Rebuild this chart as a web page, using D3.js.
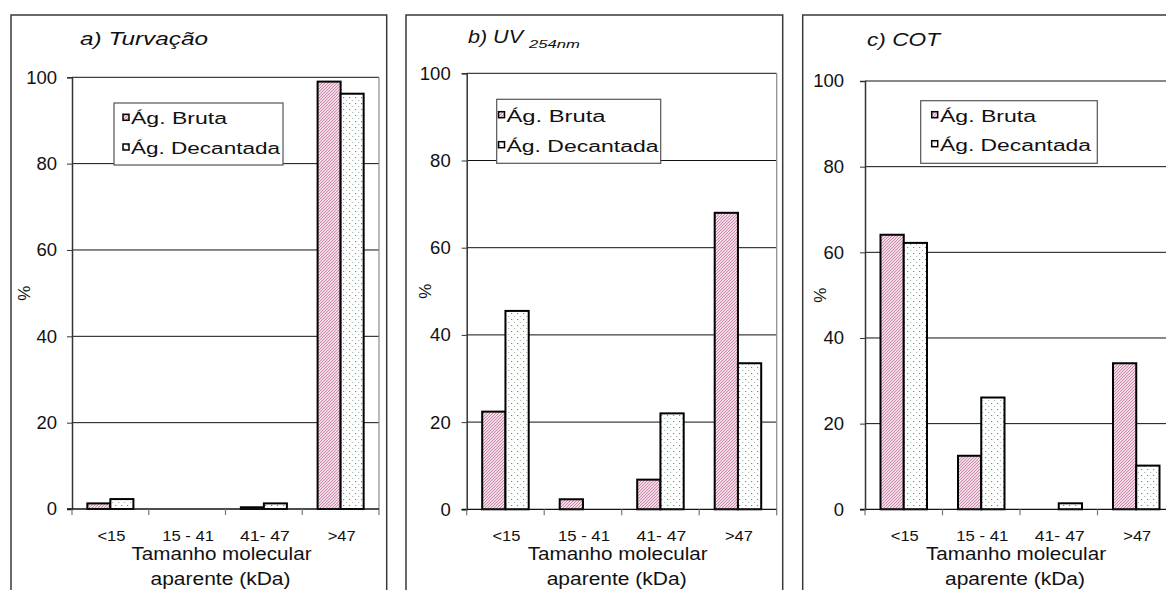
<!DOCTYPE html>
<html>
<head>
<meta charset="utf-8">
<script src="https://cdn.jsdelivr.net/npm/d3@7"></script>
<style>
  html, body { margin: 0; padding: 0; background: #fff; }
  svg { display: block; font-family: "Liberation Sans", Arial, sans-serif; }
</style>
</head>
<body>
<svg id="chart" width="1166" height="590"></svg>
<script>
// Size classes of the apparent molecular weight (kDa)
const categories = ["<15", "15 - 41", "41- 47", ">47"];
const categoryLabelWidths = [28, 52, 50, 28];
const seriesNames = ["Ág. Bruta", "Ág. Decantada"];

// Percentage distribution per parameter
const turvacaoBruta     = [1.3, 0, 0.4, 99];
const turvacaoDecantada = [2.3, 0, 1.3, 96.2];
const uvBruta           = [22.4, 2.3, 6.8, 68];
const uvDecantada       = [45.5, 0, 22, 33.5];
const cotBruta          = [64.1, 12.5, 0, 34.1];
const cotDecantada      = [62.2, 26.1, 1.4, 10.2];

const yTickValues = [0, 20, 40, 60, 80, 100];

const svg = d3.select("#chart");
const defs = svg.append("defs");

// Fill patterns: fine pink diagonal hatch and sparse dots
const hatch = defs.append("pattern")
  .attr("id", "hatch").attr("patternUnits", "userSpaceOnUse")
  .attr("width", 3).attr("height", 3);
hatch.append("rect").attr("width", 3).attr("height", 3).attr("fill", "#f1d9e5");
hatch.append("path").attr("d", "M-1,1 L1,-1 M0,3 L3,0 M2,4 L4,2")
  .attr("stroke", "#c2769c").attr("stroke-width", 0.8);

const dots = defs.append("pattern")
  .attr("id", "dots").attr("patternUnits", "userSpaceOnUse")
  .attr("width", 6).attr("height", 6);
dots.append("rect").attr("width", 6).attr("height", 6).attr("fill", "#ffffff");
dots.append("rect").attr("x", 1).attr("y", 1).attr("width", 1.2).attr("height", 1)
  .attr("fill", "#6f8c73");
dots.append("rect").attr("x", 4).attr("y", 4).attr("width", 1.2).attr("height", 1)
  .attr("fill", "#a9bdac");

const fills = ["url(#hatch)", "url(#dots)"];

const panels = [
  {
    title: "a) Turvação", titleX: 80, titleY: 45, titleW: 128, sub: null,
    frame: { x0: 11, x1: 386.7 },
    plot: { l: 72, r: 379, t: 77.3, b: 509 },
    labelGap: 15, pctX: 25,
    legend: { x: 114, y: 103, w: 169, h: 62, sx: 123, tx: 131, b1: 124.3, b2: 154, wB: 96, wD: 149 },
    data: [turvacaoBruta, turvacaoDecantada]
  },
  {
    title: "b) UV", titleX: 468, titleY: 43, titleW: 55,
    sub: { text: "254nm", x: 529, y: 48, w: 51 },
    frame: { x0: 406, x1: 782.7 },
    plot: { l: 466.7, r: 776.7, t: 73.3, b: 509.3 },
    labelGap: 16, pctX: 426,
    legend: { x: 496.7, y: 99.3, w: 164, h: 64, sx: 498.5, tx: 506.5, b1: 121.7, b2: 151.7, wB: 99, wD: 152 },
    data: [uvBruta, uvDecantada]
  },
  {
    title: "c) COT", titleX: 867, titleY: 46, titleW: 73, sub: null,
    frame: { x0: 802.7, x1: 1300 },
    plot: { l: 865, r: 1175, t: 81, b: 509.3 },
    labelGap: 21, pctX: 821,
    legend: { x: 920.7, y: 100.7, w: 176.6, h: 62.6, sx: 931.7, tx: 940, b1: 121.7, b2: 150.7, wB: 96, wD: 151 },
    data: [cotBruta, cotDecantada]
  }
];

panels.forEach(p => {
  const g = svg.append("g");
  const { l, r, t, b } = p.plot;

  // outer chart frame (runs past the bottom edge)
  g.append("rect")
    .attr("x", p.frame.x0).attr("y", 15)
    .attr("width", p.frame.x1 - p.frame.x0).attr("height", 620)
    .attr("fill", "none").attr("stroke", "#3a3a3a").attr("stroke-width", 1.5);

  const y = d3.scaleLinear().domain([0, 100]).range([b, t]);
  const x0 = d3.scaleBand().domain(categories).range([l, r]).paddingInner(0).paddingOuter(0);
  const bw = x0.bandwidth() * 0.3;
  const x1 = d3.scaleBand().domain(seriesNames)
    .range([(x0.bandwidth() - 2 * bw) / 2, (x0.bandwidth() + 2 * bw) / 2]);

  // horizontal gridlines
  g.append("g").selectAll("line").data(yTickValues.filter(v => v > 0)).join("line")
    .attr("x1", l).attr("x2", r)
    .attr("y1", d => y(d)).attr("y2", d => y(d))
    .attr("stroke", "#111").attr("stroke-width", 1);

  // right border of plot area
  g.append("line").attr("x1", r).attr("x2", r).attr("y1", t).attr("y2", b)
    .attr("stroke", "#8a8a8a").attr("stroke-width", 1.2);

  // y axis
  const yAxis = d3.axisLeft(y).tickValues(yTickValues).tickSize(5).tickPadding(p.labelGap - 5)
    .tickFormat(d3.format("d"));
  const ya = g.append("g").attr("transform", `translate(${l},0)`).call(yAxis);
  ya.select(".domain").attr("stroke", "#333").attr("stroke-width", 1.5);
  ya.selectAll(".tick line").attr("stroke", "#333");
  ya.selectAll(".tick text")
    .attr("font-size", 18.5).attr("fill", "#111")
    .attr("font-family", "'Liberation Sans', Arial, sans-serif");

  // bars
  const bars = g.append("g");
  seriesNames.forEach((s, si) => {
    const vals = p.data[si];
    bars.selectAll(null)
      .data(categories.map((c, i) => ({ c, v: vals[i] })).filter(d => d.v > 0))
      .join("rect")
      .attr("x", d => x0(d.c) + x1(s))
      .attr("y", d => y(d.v))
      .attr("width", x1.bandwidth())
      .attr("height", d => y(0) - y(d.v))
      .attr("fill", fills[si])
      .attr("stroke", "#000").attr("stroke-width", 2);
  });

  // x axis
  g.append("line").attr("x1", l - 5).attr("x2", r).attr("y1", b).attr("y2", b)
    .attr("stroke", "#111").attr("stroke-width", 1.3);
  const bounds = categories.map(c => x0(c)).concat([r]);
  g.append("g").selectAll("line").data(bounds).join("line")
    .attr("x1", d => d).attr("x2", d => d).attr("y1", b).attr("y2", b + 6)
    .attr("stroke", "#777").attr("stroke-width", 1.2);
  g.append("g").selectAll("text").data(categories).join("text")
    .attr("x", d => x0(d) + x0.bandwidth() / 2 + 1)
    .attr("y", 541)
    .attr("text-anchor", "middle")
    .attr("font-size", 14).attr("fill", "#111")
    .attr("textLength", (d, i) => categoryLabelWidths[i]).attr("lengthAdjust", "spacingAndGlyphs")
    .text(d => d);

  // axis titles
  const cx = (l + r) / 2 - 4;
  g.append("text").attr("x", cx).attr("y", 559.5).attr("text-anchor", "middle")
    .attr("font-size", 17.5).attr("fill", "#111")
    .attr("textLength", 180).attr("lengthAdjust", "spacingAndGlyphs")
    .text("Tamanho molecular");
  g.append("text").attr("x", cx - 1).attr("y", 585).attr("text-anchor", "middle")
    .attr("font-size", 17.5).attr("fill", "#111")
    .attr("textLength", 140).attr("lengthAdjust", "spacingAndGlyphs")
    .text("aparente (kDa)");
  g.append("text")
    .attr("transform", `translate(${p.pctX + 5},${(t + b) / 2}) rotate(-90)`)
    .attr("text-anchor", "middle").attr("font-size", 17).attr("fill", "#111")
    .text("%");

  // panel title
  g.append("text").attr("x", p.titleX).attr("y", p.titleY)
    .attr("font-size", 18).attr("font-style", "italic").attr("fill", "#111")
    .attr("textLength", p.titleW).attr("lengthAdjust", "spacingAndGlyphs")
    .text(p.title);
  if (p.sub) {
    g.append("text").attr("x", p.sub.x).attr("y", p.sub.y)
      .attr("font-size", 11).attr("font-style", "italic").attr("fill", "#111")
      .attr("textLength", p.sub.w).attr("lengthAdjust", "spacingAndGlyphs")
      .text(p.sub.text);
  }

  // legend
  const L = p.legend;
  const lg = g.append("g");
  lg.append("rect").attr("x", L.x).attr("y", L.y).attr("width", L.w).attr("height", L.h)
    .attr("fill", "#fff").attr("stroke", "#555").attr("stroke-width", 1.2);
  const rows = [{ s: seriesNames[0], base: L.b1, w: L.wB }, { s: seriesNames[1], base: L.b2, w: L.wD }];
  rows.forEach((row, i) => {
    lg.append("rect").attr("x", L.sx).attr("y", row.base - 10).attr("width", 6).attr("height", 6)
      .attr("fill", fills[i]).attr("stroke", "#000").attr("stroke-width", 1.5);
    lg.append("text").attr("x", L.tx).attr("y", row.base)
      .attr("font-size", 16).attr("fill", "#111")
      .attr("textLength", row.w).attr("lengthAdjust", "spacingAndGlyphs")
      .text(row.s);
  });
});
</script>
</body>
</html>
